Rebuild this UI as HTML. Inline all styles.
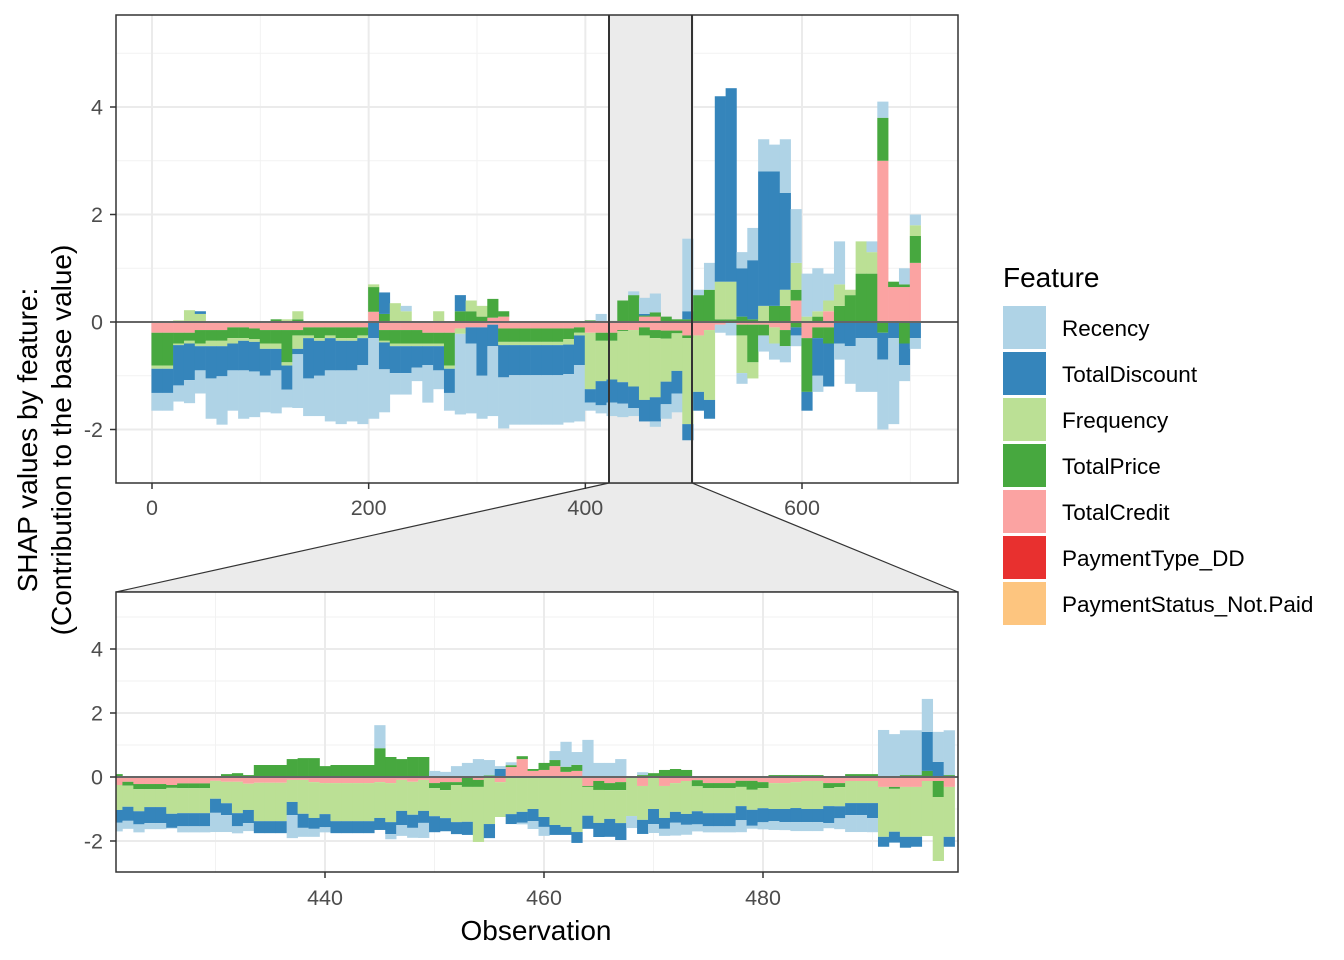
<!DOCTYPE html>
<html><head><meta charset="utf-8"><style>
body{margin:0;background:#fff;}
svg{display:block;font-family:"Liberation Sans",Arial,sans-serif;}
</style></head><body>
<svg id="chart" width="1344" height="960" xmlns="http://www.w3.org/2000/svg">
<defs>
<clipPath id="clipTop"><rect x="116" y="15" width="842" height="468"/></clipPath>
<clipPath id="clipBot"><rect x="116" y="592" width="842" height="280"/></clipPath>
</defs>
<rect x="0" y="0" width="1344" height="960" fill="#fff"/>
<polygon points="609,483 692,483 958,592 116,592" fill="#ebebeb" stroke="#333" stroke-width="1.2"/>
<g id="topPanel"></g>
<g id="botPanel"></g>
<g>
<text transform="translate(37,440) rotate(-90)" text-anchor="middle" font-size="28" fill="#000">SHAP values by feature:</text>
<text transform="translate(71,440) rotate(-90)" text-anchor="middle" font-size="28" fill="#000">(Contribution to the base value)</text>
</g>
<text x="536" y="940" text-anchor="middle" font-size="28" fill="#000">Observation</text>
<g id="legend">
<text x="1003" y="287" font-size="28" fill="#000">Feature</text>
</g>
</svg>
<script>
const NS="http://www.w3.org/2000/svg";
const features=["Recency","TotalDiscount","Frequency","TotalPrice","TotalCredit","PaymentType_DD","PaymentStatus_Not.Paid"];
const colors=["#afd3e6","#3585bb","#bbe095","#47a83f","#fba3a2","#e8302f","#fdc57f"];
// ---- overview data: bins of 10 observations (bin k = obs 10k..10k+9)
const binStart=[0,10,20,30,40,50,60,70,80,90,100,110,120,130,140,150,160,170,180,190,200,210,220,230,240,250,260,270,280,290,300,310,320,330,340,350,360,370,380,390,400,410,420,430,440,450,460,470,480,490,500,510,520,530,540,550,560,570,580,590,600,610,620,630,640,650,660,670,680,690,700];
const recPos=[0,0,0,0,0,0,0,0,0,0,0,0,0,0,0,0,0,0,0,0,0,0,0,0.1,0,0,0,0,0,0,0,0,0,0,0,0,0,0,0,0,0,0.15,0,0,0.07,0.3,0.35,0,0,1.35,0.1,0.5,0,0,0.3,0.6,0.6,0.5,1.0,1.0,0.8,0.8,0.5,0.8,0,0,0.2,0.3,0,0.3,0.2];
const discPos=[0,0,0,0,0.05,0,0,0,0,0,0,0,0,0,0,0,0,0,0,0,0,0.4,0,0,0,0,0,0,0.3,0,0,0,0,0,0,0,0,0,0,0,0,0,0,0,0,0.03,0,0,0,0.15,0,0,3.45,3.6,0.9,1.1,2.5,2.5,1.8,0,0,0,0,0,0,0,0,0,0,0,0];
const freqPos=[0,0,0.03,0.22,0.15,0,0,0,0,0,0,0,0.05,0.15,0,0,0,0,0,0,0.05,0,0.35,0.2,0,0,0.2,0,0,0.2,0.2,0,0,0,0,0,0,0,0,0,0,0,0,0,0,0,0,0,0,0,0,0,0.7,0.7,0,0,0.3,0,0.3,0.5,0.1,0.1,0.2,0.4,0.1,0.6,0.4,0,0,0,0.2];
const pricePos=[0,0,0,0,0,0,0,0,0,0,0,0.05,0,0.05,0,0,0,0,0,0,0.46,0.15,0,0,0,0,0,0,0.2,0.2,0.1,0.35,0.1,0,0,0,0,0,0,0,0.03,0,0.02,0.4,0.5,0.02,0.08,0.1,0.05,0.05,0.5,0.6,0.05,0.05,0.1,0.05,0,0.3,0.3,0.2,0,0.1,0,0.3,0.5,0.9,0.9,0.8,0.1,0.05,0.5];
const creditPos=[0,0,0,0,0,0,0,0,0,0,0,0,0,0,0,0,0,0,0,0,0.19,0,0,0,0,0,0,0,0,0,0,0.08,0.1,0,0,0,0,0,0,0,0,0,0,0,0,0.1,0.1,0,0,0,0,0,0,0,0,0,0,0,0,0.4,0,0,0.2,0,0,0,0,3.0,0.65,0.65,1.1];
const recNeg=[-0.33,-0.33,-0.3,-0.43,-0.43,-0.75,-0.9,-0.75,-0.9,-0.85,-0.68,-0.8,-0.33,-1.0,-0.7,-0.75,-0.95,-1.0,-0.95,-1.1,-1.5,-0.8,-0.4,-0.4,-0.25,-0.7,-0.35,-0.33,-1.5,-1.3,-0.8,-1.3,-0.95,-0.92,-0.92,-0.92,-0.92,-0.92,-0.9,-1.05,-0.15,-0.15,-0.25,-0.25,-0.15,0,-0.1,-0.27,-0.35,0,0,0,-0.15,-0.25,-0.2,0,-0.3,-0.3,-0.3,-0.2,0,-0.3,0,-0.3,-0.7,-1.0,-1.0,-1.3,-1.6,-0.3,-0.2];
const discNeg=[-0.45,-0.45,-0.75,-0.68,-0.45,-0.6,-0.56,-0.5,-0.55,-0.55,-0.5,-0.4,-0.45,-0.1,-0.75,-0.65,-0.6,-0.55,-0.55,-0.5,-0.3,-0.5,-0.5,-0.5,-0.4,-0.35,-0.45,-0.45,0,-0.3,-0.9,-0.4,-0.6,-0.56,-0.56,-0.56,-0.56,-0.56,-0.55,-0.55,-0.25,-0.45,-0.43,-0.4,-0.4,-0.4,-0.45,-0.42,-0.42,-0.3,-0.35,-0.35,0,0,0,0,0,0,0,-0.15,-0.35,-0.7,-0.8,-0.4,-0.45,-0.3,-0.3,-0.5,-0.3,-0.4,-0.3];
const freqNeg=[-0.06,-0.06,-0.03,-0.05,-0.05,-0.1,-0.1,-0.1,-0.05,-0.05,-0.1,-0.1,-0.06,-0.25,-0.05,-0.05,-0.05,-0.05,-0.05,-0.05,0,-0.03,-0.05,-0.05,-0.05,-0.05,-0.05,-0.06,-0.1,0,0,0,-0.06,-0.06,-0.06,-0.06,-0.06,-0.06,-0.1,-0.05,-1.05,-0.75,-0.72,-0.95,-1.05,-1.2,-1.1,-0.8,-0.7,-1.6,-1.05,-1.3,0,0,-0.7,-0.3,0,-0.3,0,0,0,0,0,0,0,0,0,0,0,0,0];
const priceNeg=[-0.61,-0.61,-0.2,-0.15,-0.25,-0.2,-0.2,-0.2,-0.2,-0.2,-0.25,-0.25,-0.6,-0.1,-0.15,-0.2,-0.15,-0.2,-0.2,-0.15,0,-0.2,-0.25,-0.25,-0.25,-0.2,-0.2,-0.61,0,0,0,0,-0.25,-0.25,-0.25,-0.25,-0.25,-0.25,-0.2,-0.1,0,-0.15,-0.15,-0.02,0,-0.15,-0.15,-0.15,-0.05,-0.05,0,0,0,0,-0.2,-0.7,-0.2,0,-0.3,-0.1,-1.0,-0.2,-0.3,0,0,0,0,-0.2,0,-0.4,0];
const creditNeg=[-0.2,-0.2,-0.2,-0.2,-0.15,-0.15,-0.15,-0.1,-0.1,-0.12,-0.15,-0.15,-0.15,-0.15,-0.1,-0.1,-0.1,-0.1,-0.1,-0.1,0,-0.15,-0.15,-0.15,-0.15,-0.2,-0.2,-0.2,-0.12,-0.1,-0.1,-0.05,-0.12,-0.12,-0.12,-0.12,-0.12,-0.12,-0.12,-0.1,-0.2,-0.2,-0.2,-0.15,-0.15,-0.1,-0.15,-0.16,-0.16,-0.25,-0.25,-0.15,-0.05,0,-0.05,-0.05,-0.05,-0.1,-0.15,0,-0.3,-0.1,-0.1,0,0,0,0,0,0,0,0];
// ---- zoom data: observations 421..497
const zoomObs=[421,422,423,424,425,426,427,428,429,430,431,432,433,434,435,436,437,438,439,440,441,442,443,444,445,446,447,448,449,450,451,452,453,454,455,456,457,458,459,460,461,462,463,464,465,466,467,468,469,470,471,472,473,474,475,476,477,478,479,480,481,482,483,484,485,486,487,488,489,490,491,492,493,494,495,496,497];
const zRec=[-0.27,-0.25,-0.25,-0.19,-0.19,-0.02,-0.19,-0.19,-0.19,-0.6,-0.53,-0.22,-0.25,0,0,0,-0.72,-0.28,-0.25,-0.16,0,0,0,0,0.72,-0.16,-0.34,-0.31,-0.47,0.19,0.16,0.34,0.44,0.56,0.48,0.09,0.09,-0.05,-0.25,-0.28,0.28,0.78,0.4,1.16,0.44,0.44,0.56,-0.375,0.09,-0.28,-0.22,-0.4,-0.31,-0.22,-0.19,-0.19,-0.19,-0.375,-0.09,-0.22,-0.28,-0.25,-0.28,-0.28,-0.28,-0.16,-0.34,-0.53,-0.53,-0.44,1.44,1.34,1.4,1.4,1.03,0.94,1.4];
const zDisc=[-0.4,-0.44,-0.41,-0.5,-0.5,-0.44,-0.41,-0.41,-0.41,-0.44,-0.37,-0.41,-0.41,-0.375,-0.375,-0.375,-0.41,-0.44,-0.34,-0.41,-0.375,-0.375,-0.375,-0.375,-0.375,-0.375,-0.44,-0.41,-0.375,-0.5,-0.41,-0.375,-0.41,0,-0.44,0.25,-0.31,-0.34,-0.375,-0.31,-0.31,-0.25,-0.34,-0.41,-0.44,-0.56,-0.53,0,-0.44,-0.47,-0.34,-0.34,-0.34,-0.41,-0.41,-0.41,-0.41,-0.44,-0.5,-0.44,-0.375,-0.41,-0.44,-0.41,-0.41,-0.53,-0.375,-0.375,-0.375,-0.47,-0.31,-0.34,-0.34,-0.31,1.22,0.47,-0.31];
const zFreq=[-0.78,-0.66,-0.69,-0.56,-0.56,-0.81,-0.78,-0.78,-0.78,-0.56,-0.67,-0.98,-0.82,-1.2,-1.2,-1.2,-0.69,-1.06,-1.12,-0.97,-1.19,-1.19,-1.19,-1.19,-1.12,-1.22,-0.97,-1.03,-0.97,-0.875,-0.875,-1.16,-1.09,-1.72,-1.44,-1.09,-1.16,-1.09,-1.0,-1.25,-1.5,-1.56,-1.72,-0.9,-1.03,-0.9,-1.03,-1.19,-1.06,-0.97,-1.0,-0.9,-1.03,-0.78,-0.78,-0.78,-0.78,-0.6,-0.625,-0.625,-0.81,-0.81,-0.81,-0.875,-0.875,-0.56,-0.6,-0.69,-0.69,-0.69,-1.56,-1.34,-1.56,-1.56,-1.72,-2.0,-1.56];
const zPrice=[0.09,-0.12,-0.16,-0.16,-0.16,-0.09,-0.15,-0.15,-0.15,0,0.09,0.12,0.06,0.375,0.375,0.375,0.56,0.59,0.59,0.34,0.375,0.375,0.375,0.375,0.9,0.625,0.56,0.625,0.625,-0.16,-0.25,-0.09,-0.28,-0.22,0.05,0,0.06,0.09,0.06,0.22,0.19,0.16,0.19,-0.03,-0.28,-0.22,-0.25,0,0.06,0.12,0.22,0.25,0.22,-0.19,-0.16,-0.16,-0.16,-0.19,-0.28,-0.19,0.06,0.06,0.06,0.06,0.06,-0.16,-0.125,0.09,0.09,0.09,0.03,-0.06,0.06,0.06,0.19,-0.5,0.06];
const zCredit=[-0.25,-0.15,-0.22,-0.22,-0.22,-0.25,-0.2,-0.2,-0.2,-0.12,-0.15,-0.15,-0.21,-0.18,-0.18,-0.18,-0.09,-0.09,-0.16,-0.19,-0.19,-0.19,-0.19,-0.19,-0.16,-0.19,-0.09,-0.15,-0.09,-0.19,-0.16,-0.16,-0.03,-0.09,-0.03,-0.16,0.31,0.56,0.19,0.22,0.34,0.16,0.19,-0.28,-0.125,-0.19,-0.16,-0.03,-0.28,-0.03,-0.28,-0.19,-0.125,-0.1,-0.19,-0.19,-0.19,-0.12,-0.12,-0.16,-0.19,-0.19,-0.16,-0.125,-0.125,-0.19,-0.19,-0.125,-0.125,-0.125,-0.31,-0.31,-0.31,-0.31,-0.125,-0.125,-0.31];
const topXTicks=[0,200,400,600];
const yTicks=[-2,0,2,4];
const botXTicks=[440,460,480];

// axis functions
const tx=o=>152+o*(650/600);
const ty=v=>322-v*53.75;
const bx=o=>325+(o-440)*10.95;
const by=v=>777-v*32;

const topG=document.getElementById('topPanel');
const botG=document.getElementById('botPanel');
function mk(tag,attrs,parent){const e=document.createElementNS(NS,tag);for(const k in attrs)e.setAttribute(k,attrs[k]);parent.appendChild(e);return e;}

function panelBase(g,x0,y0,x1,y1,xMaj,xMin,yMaj,yMin,fx,fy){
  const bg=mk('rect',{x:x0,y:y0,width:x1-x0,height:y1-y0,fill:'#fff'},g);
  
  
  xMin.forEach(v=>{const X=fx(v);if(X>x0&&X<x1)mk('line',{x1:X,x2:X,y1:y0,y2:y1,stroke:'#f2f2f2','stroke-width':1},g);});
  yMin.forEach(v=>{const Y=fy(v);if(Y>y0&&Y<y1)mk('line',{x1:x0,x2:x1,y1:Y,y2:Y,stroke:'#f2f2f2','stroke-width':1},g);});
  xMaj.forEach(v=>{const X=fx(v);mk('line',{x1:X,x2:X,y1:y0,y2:y1,stroke:'#ebebeb','stroke-width':2},g);});
  yMaj.forEach(v=>{const Y=fy(v);mk('line',{x1:x0,x2:x1,y1:Y,y2:Y,stroke:'#ebebeb','stroke-width':2},g);});
}

// ---------- top panel
panelBase(topG,116,15,958,483,topXTicks,[100,300,500,700],yTicks,[-1,1,3,5],tx,ty);
const shade=mk('rect',{x:609,y:15,width:83,height:468,fill:'#ebebeb'},topG);


const topBars=mk('g',{'clip-path':'url(#clipTop)'},topG);


const posSeries=[[creditPos,4],[pricePos,3],[freqPos,2],[discPos,1],[recPos,0]];
const negSeries=[[creditNeg,4],[priceNeg,3],[freqNeg,2],[discNeg,1],[recNeg,0]];
binStart.forEach((s,i)=>{
  const xa=tx(s-0.5),xb=tx(s+9.5);
  let acc=0;
  posSeries.forEach(([arr,ci])=>{const v=arr[i];if(v>0){const r=mk('rect',{x:xa,y:ty(acc+v),width:xb-xa+0.3,height:ty(acc)-ty(acc+v),fill:colors[ci]},topBars);
    
    acc+=v;}});
  acc=0;
  negSeries.forEach(([arr,ci])=>{const v=arr[i];if(v<0){const r=mk('rect',{x:xa,y:ty(acc),width:xb-xa+0.3,height:ty(acc+v)-ty(acc),fill:colors[ci]},topBars);
    
    acc+=v;}});
});
mk('line',{x1:116,x2:958,y1:ty(0),y2:ty(0),stroke:'#666','stroke-width':2},topG);
mk('line',{x1:609,x2:609,y1:15,y2:483,stroke:'#333','stroke-width':2},topG);
mk('line',{x1:692,x2:692,y1:15,y2:483,stroke:'#333','stroke-width':2},topG);
mk('rect',{x:116,y:15,width:842,height:468,fill:'none',stroke:'#333','stroke-width':1.5},topG);
topXTicks.forEach(v=>{const X=tx(v);mk('line',{x1:X,x2:X,y1:483,y2:489,stroke:'#333','stroke-width':1.5},topG);
  const t=mk('text',{x:X,y:515,'text-anchor':'middle','font-size':21.5,fill:'#4d4d4d'},topG);t.textContent=v;
  
  });
yTicks.forEach(v=>{const Y=ty(v);mk('line',{x1:110,x2:116,y1:Y,y2:Y,stroke:'#333','stroke-width':1.5},topG);
  const t=mk('text',{x:103,y:Y+7.5,'text-anchor':'end','font-size':21.5,fill:'#4d4d4d'},topG);t.textContent=v;
  
  });

// ---------- bottom panel
panelBase(botG,116,592,958,872,botXTicks,[430,450,470,490],yTicks,[-1,1,3,5],bx,by);
const botBars=mk('g',{'clip-path':'url(#clipBot)'},botG);


const zSeries=[[zCredit,4],[zPrice,3],[zFreq,2],[zDisc,1],[zRec,0]];
zoomObs.forEach((o,i)=>{
  const xa=bx(o-0.5),w=10.95+0.3;
  let p=0,n=0;
  zSeries.forEach(([arr,ci])=>{const v=arr[i];let r=null;
    if(v>0){r=mk('rect',{x:xa,y:by(p+v),width:w,height:by(p)-by(p+v),fill:colors[ci]},botBars);p+=v;}
    else if(v<0){r=mk('rect',{x:xa,y:by(n),width:w,height:by(n+v)-by(n),fill:colors[ci]},botBars);n+=v;}
    if(r){
    }
  });
});
mk('line',{x1:116,x2:958,y1:by(0),y2:by(0),stroke:'#666','stroke-width':2},botG);
mk('rect',{x:116,y:592,width:842,height:280,fill:'none',stroke:'#333','stroke-width':1.5},botG);
botXTicks.forEach(v=>{const X=bx(v);mk('line',{x1:X,x2:X,y1:872,y2:878,stroke:'#333','stroke-width':1.5},botG);
  const t=mk('text',{x:X,y:905,'text-anchor':'middle','font-size':21.5,fill:'#4d4d4d'},botG);t.textContent=v;
  
  });
yTicks.forEach(v=>{const Y=by(v);mk('line',{x1:110,x2:116,y1:Y,y2:Y,stroke:'#333','stroke-width':1.5},botG);
  const t=mk('text',{x:103,y:Y+7.5,'text-anchor':'end','font-size':21.5,fill:'#4d4d4d'},botG);t.textContent=v;
  
  });

// ---------- legend
const leg=document.getElementById('legend');
features.forEach((f,i)=>{
  const y=306+i*46;
  const k=mk('rect',{x:1003,y:y,width:43,height:43,fill:colors[i]},leg);
  
  
  const t=mk('text',{x:1062,y:y+30,'font-size':22.5,fill:'#000'},leg);t.textContent=f;
  
  
});
</script>
</body></html>
